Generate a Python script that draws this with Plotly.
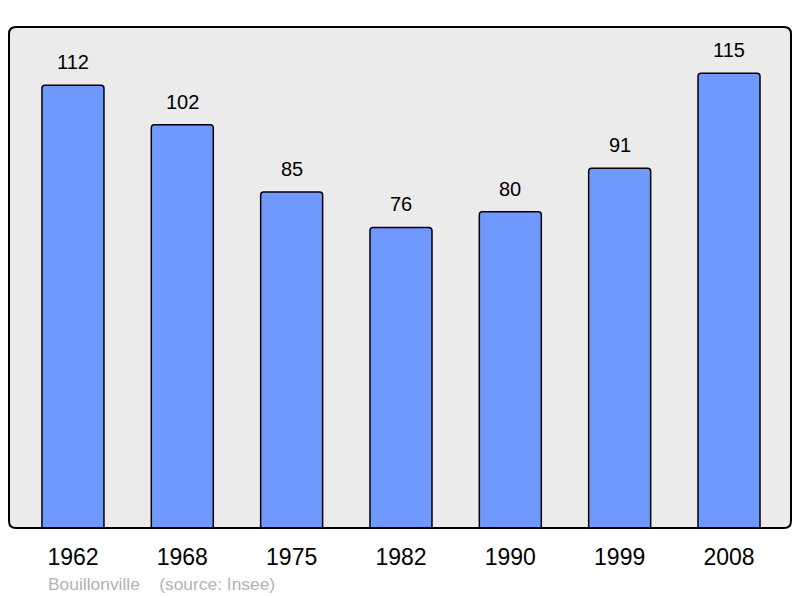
import plotly.graph_objects as go

years = ["1962", "1968", "1975", "1982", "1990", "1999", "2008"]
population = [112, 102, 85, 76, 80, 91, 115]
source_text = "Bouillonville    (source: Insee)"

W, H = 800, 598
ml, mr, mt, mb = 9, 9, 27, 70
pw, ph = W - ml - mr, H - mt - mb

fig = go.Figure()
fig.add_trace(go.Bar(
    x=list(range(len(years))), y=population,
    width=0.567,
    marker=dict(color="#7099ff", line=dict(color="#000000", width=1.5), cornerradius=3),
    hoverinfo="skip",
))

for i, v in enumerate(population):
    fig.add_annotation(x=i, y=v, text=str(v), showarrow=False, yanchor="bottom",
                       yshift=10, font=dict(size=20, color="#000000", family="Liberation Sans"))

fig.add_annotation(xref="paper", yref="paper", x=(46 - ml) / pw, y=-(584 - (mt + ph)) / ph,
                   xanchor="left", yanchor="middle", text=source_text, showarrow=False,
                   font=dict(size=17.4, color="#b3b3b3", family="Liberation Sans"))

# rounded rectangle for plot frame
rx, ry = 7 / pw, 7 / ph
def rrect():
    return (f"M {rx},0 L {1-rx},0 Q 1,0 1,{ry} L 1,{1-ry} Q 1,1 {1-rx},1 "
            f"L {rx},1 Q 0,1 0,{1-ry} L 0,{ry} Q 0,0 {rx},0 Z")

fig.add_shape(type="path", xref="paper", yref="paper", path=rrect(),
              fillcolor="#ebebeb", line=dict(width=0), layer="below")
fig.add_shape(type="path", xref="paper", yref="paper", path=rrect(),
              fillcolor="rgba(0,0,0,0)", line=dict(color="#000000", width=2), layer="above")

fig.update_layout(
    width=W, height=H,
    margin=dict(l=ml, r=mr, t=mt, b=mb),
    paper_bgcolor="#ffffff", plot_bgcolor="rgba(0,0,0,0)",
    showlegend=False,
    xaxis=dict(range=[-0.585, 6.567], tickmode="array", tickvals=list(range(len(years))),
               ticktext=years, showgrid=False, zeroline=False, showline=False,
               ticks="outside", ticklen=8, tickcolor="rgba(0,0,0,0)",
               tickfont=dict(size=23, color="#000000", family="Liberation Sans")),
    yaxis=dict(range=[0, 126.7], visible=False, showgrid=False, zeroline=False),
)

fig.write_html("out.html", config={"displayModeBar": False},
               post_script="document.body.style.margin='0px';document.body.style.overflow='hidden';")
